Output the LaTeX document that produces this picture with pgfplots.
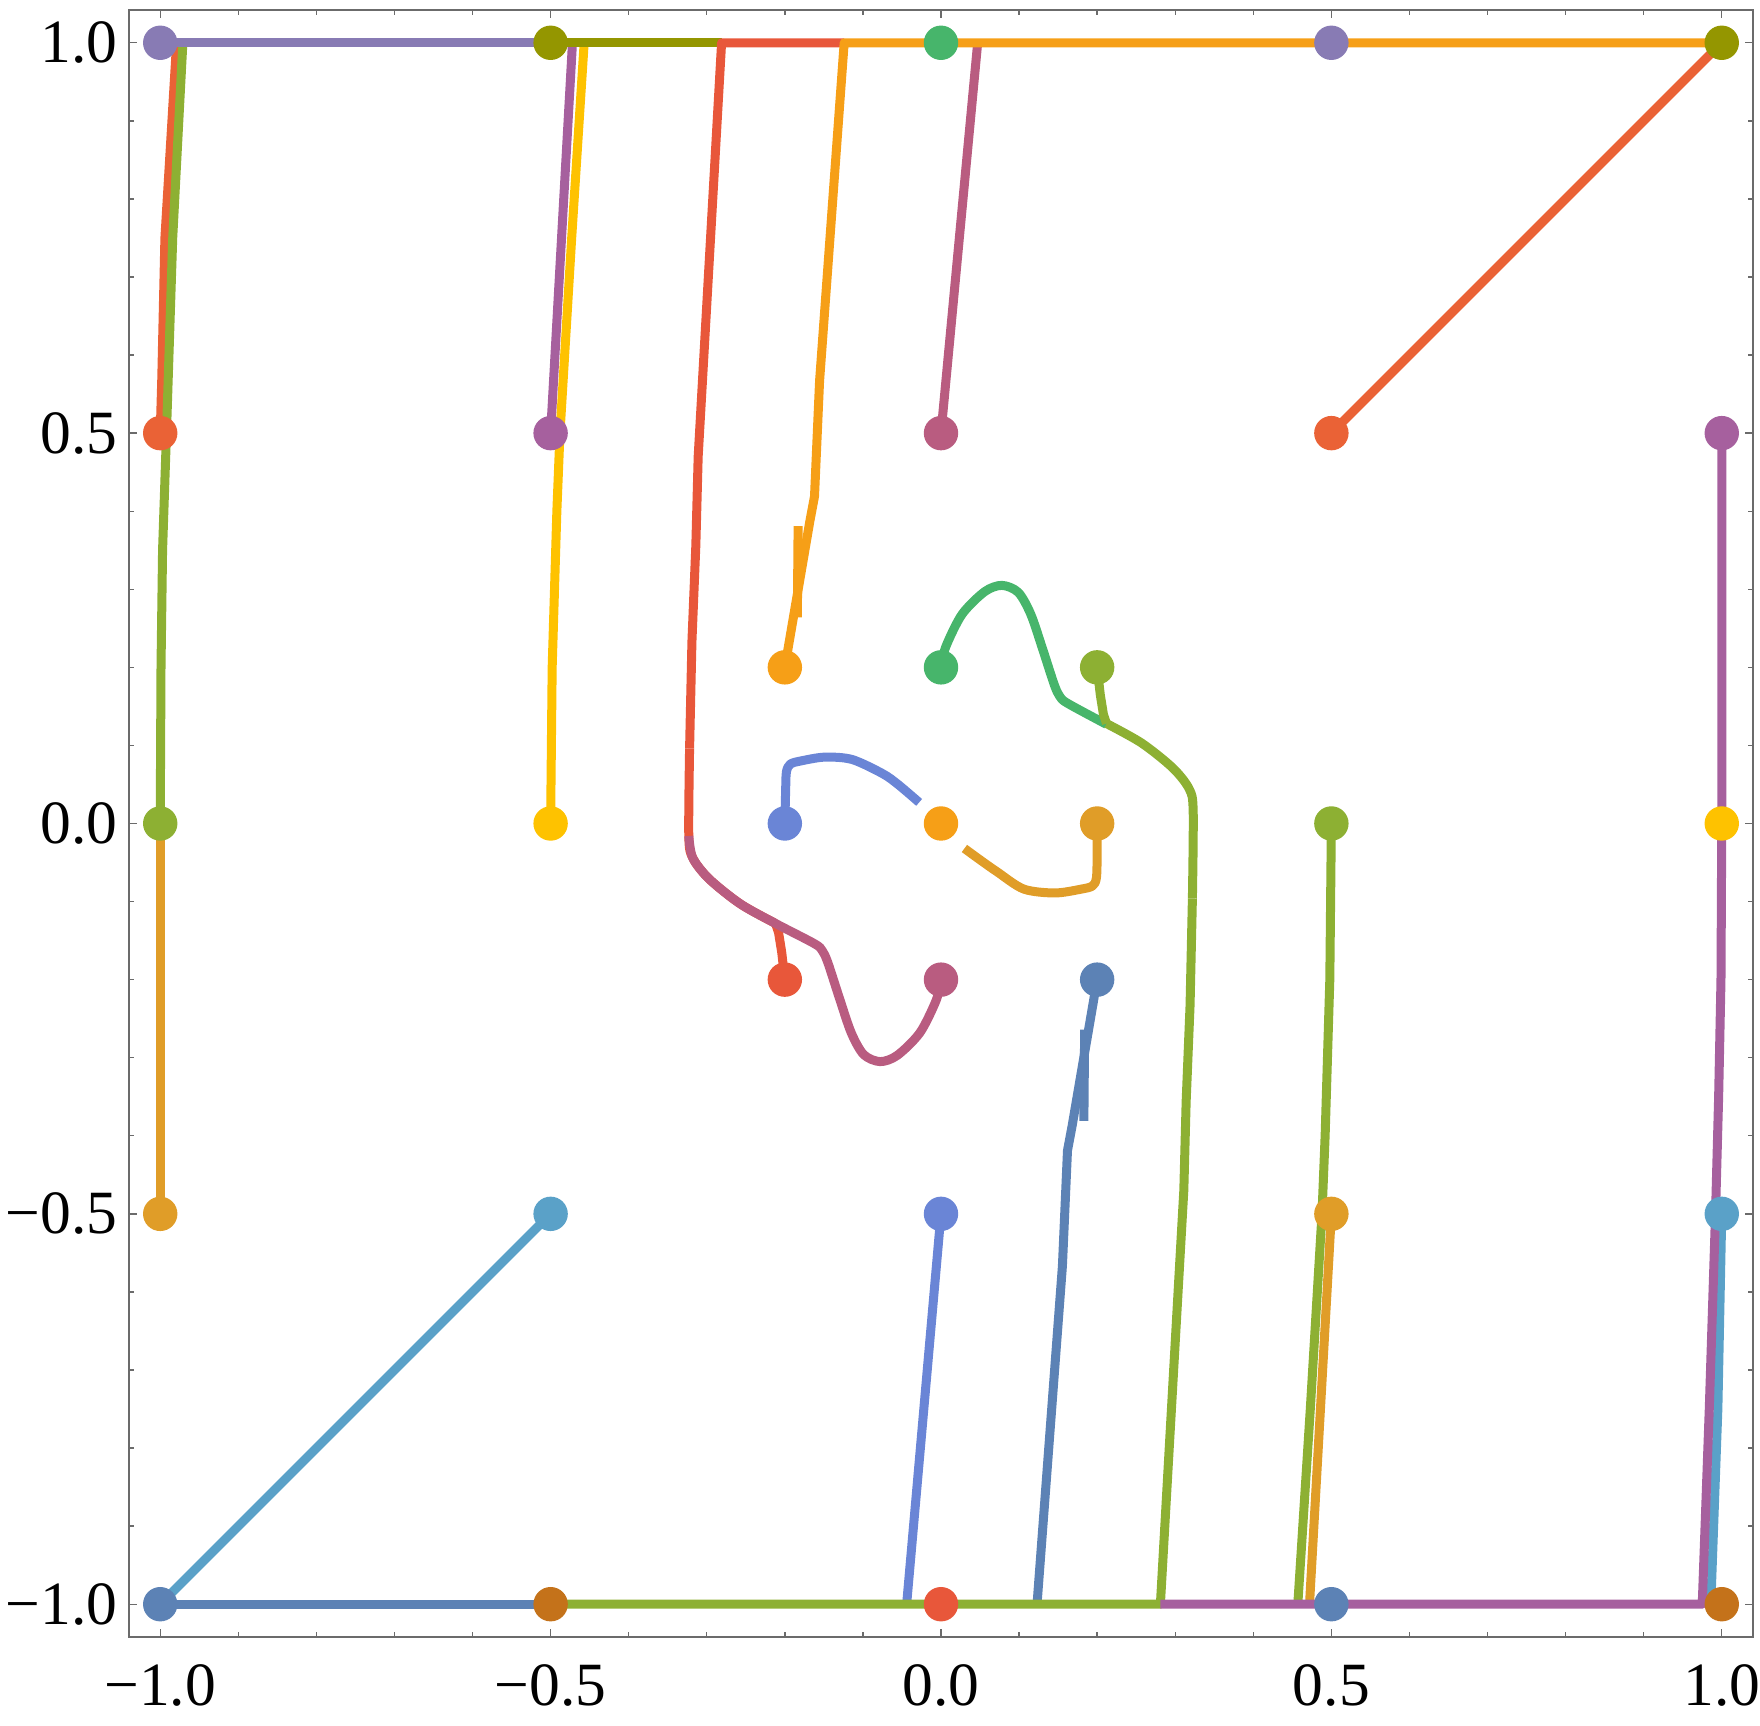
\documentclass[border=0pt]{standalone}
\usepackage{fontspec}
\setmainfont{Liberation Serif}
\usepackage{pgfplots}
\pgfplotsset{compat=1.18}
\definecolor{clav}{HTML}{887BB4}
\definecolor{colive}{HTML}{949600}
\definecolor{cgreen}{HTML}{47B56B}
\definecolor{credA}{HTML}{E8573A}
\definecolor{credB}{HTML}{EA6236}
\definecolor{cpurple}{HTML}{A6609E}
\definecolor{cpink}{HTML}{B95C80}
\definecolor{corgA}{HTML}{F69F17}
\definecolor{corgB}{HTML}{E09D28}
\definecolor{cyg}{HTML}{8DB033}
\definecolor{cyellow}{HTML}{FEC200}
\definecolor{cblue}{HTML}{6A85D6}
\definecolor{csteel}{HTML}{5C82B5}
\definecolor{clight}{HTML}{5AA1C8}
\definecolor{cbrown}{HTML}{C4721A}
\definecolor{cframe}{HTML}{6B6B6B}

\begin{document}
\begin{tikzpicture}
\path[use as bounding box] (-1.29cm,-0.89cm) rectangle (16.31cm,16.37cm);
\begin{axis}[
  at={(0,0)}, anchor=south west,
  width=16.24cm, height=16.27cm, scale only axis,
  xmin=-1.04, xmax=1.04, ymin=-1.042, ymax=1.042,
  xtick={-1,-0.5,0,0.5,1}, ytick={-1,-0.5,0,0.5,1},
  xticklabels={−1.0,−0.5,0.0,0.5,1.0},
  yticklabels={−1.0,−0.5,0.0,0.5,1.0},
  minor x tick num=4, minor y tick num=4,
  tick align=inside,
  major tick length=0.08cm, minor tick length=0.05cm,
  axis line style={cframe, line width=0.4pt},
  tick style={cframe, line width=0.4pt},
  tick label style={font=\fontsize{17.5}{20}\selectfont},
  xticklabel style={inner sep=0pt, yshift=-0.27cm},
  yticklabel style={inner sep=0pt, xshift=-0.11cm},
  traj/.style={line width=0.09cm, line join=round, no markers},
  curve/.style={traj, smooth, tension=0.5},
  dot/.style={only marks, mark=*, mark size=0.165cm},
]
% straight and near-vertical paths
\addplot[traj, credB] coordinates {(-1,0.5)(-0.998,0.57)(-0.994,0.75)(-0.979,1)};
\addplot[traj, cyg] coordinates {(-1,0)(-0.999,0.2)(-0.997,0.35)(-0.992,0.5)(-0.984,0.75)(-0.971,1)};
\addplot[traj, corgB] coordinates {(-1,-0.5)(-1,0)};
\addplot[traj, cpurple] coordinates {(-0.5,0.5)(-0.472,1)};
\addplot[traj, cyellow] coordinates {(-0.5,0)(-0.498,0.2)(-0.492,0.4)(-0.488,0.5)(-0.473,0.75)(-0.457,1)};
\addplot[traj, clight] coordinates {(-0.5,-0.5)(-1,-1)};
\addplot[traj, clight] coordinates {(1,-0.5)(0.995,-0.75)(0.986,-1)};
\addplot[traj, cpink] coordinates {(0,0.5)(0.047,1)};
\addplot[traj, cblue] coordinates {(0,-0.5)(-0.044,-1)};
\addplot[traj, credB] coordinates {(0.5,0.5)(1,1)};
\addplot[traj, cyg] coordinates {(0.5,0)(0.498,-0.2)(0.492,-0.4)(0.488,-0.5)(0.473,-0.75)(0.457,-1)};
\addplot[traj, corgB] coordinates {(0.5,-0.5)(0.472,-1)};
% edges along the top
\addplot[traj, clav] coordinates {(-1,1)(-0.5,1)};
\addplot[traj, colive] coordinates {(-0.5,1)(-0.281,1)};
% red run from (-0.2,-0.2): short stub, bend (under the pink), climb, top edge
\addplot[traj, credA] coordinates {(-0.2,-0.2)(-0.204,-0.165)(-0.208,-0.14)(-0.212,-0.128)};
\addplot[curve, credA] coordinates {
  (-0.212,-0.128)(-0.257,-0.103)(-0.297,-0.071)(-0.318,-0.044)(-0.323,-0.016)(-0.322,0.096)};
\addplot[traj, credA] coordinates {
  (-0.322,0.096)(-0.319,0.233)(-0.314,0.356)(-0.311,0.47)(-0.281,1)(-0.124,1)};
\addplot[curve, cpink] coordinates {
  (0,-0.2)(-0.006,-0.226)(-0.027,-0.268)(-0.056,-0.297)(-0.078,-0.305)
  (-0.099,-0.296)(-0.115,-0.268)(-0.130,-0.224)(-0.145,-0.178)(-0.152,-0.163)
  (-0.162,-0.154)(-0.212,-0.128)(-0.257,-0.103)(-0.297,-0.071)(-0.318,-0.044)
  (-0.323,-0.016)};
\addplot[traj, corgA] coordinates {
  (-0.2,0.2)(-0.168,0.387)(-0.162,0.419)(-0.1555,0.567)(-0.124,1)(1,1)};
\addplot[traj, corgA] coordinates {(-0.184,0.264)(-0.183,0.381)};
\addplot[curve, cgreen] coordinates {
  (0,0.2)(0.006,0.226)(0.027,0.268)(0.056,0.297)(0.078,0.305)(0.099,0.296)
  (0.115,0.268)(0.130,0.224)(0.145,0.178)(0.152,0.163)(0.162,0.154)(0.212,0.127)};
\addplot[traj, csteel] coordinates {
  (0.2,-0.2)(0.168,-0.387)(0.162,-0.419)(0.1555,-0.567)(0.123,-1)};
\addplot[traj, csteel] coordinates {(0.184,-0.264)(0.183,-0.381)};
\addplot[traj, csteel] coordinates {(-1,-1)(-0.5,-1)};
% yellow-green run from (0.2,0.2): stub, bend, descent, bottom edge
\addplot[traj, cyg] coordinates {(0.2,0.2)(0.204,0.165)(0.208,0.14)(0.212,0.128)};
\addplot[curve, cyg] coordinates {
  (0.212,0.128)(0.257,0.103)(0.297,0.071)(0.318,0.044)(0.323,0.016)(0.322,-0.096)};
\addplot[traj, cyg] coordinates {
  (0.322,-0.096)(0.319,-0.233)(0.314,-0.356)(0.311,-0.47)(0.281,-1)(-0.5,-1)};
\addplot[traj, cpurple] coordinates {
  (1,0.5)(1,0)(0.999,-0.2)(0.996,-0.35)(0.992,-0.5)(0.984,-0.75)(0.975,-1)(0.281,-1)};
\addplot[curve, cblue] coordinates {
  (-0.2,0)(-0.199,0.041)(-0.198,0.066)(-0.193,0.076)(-0.180,0.080)(-0.149,0.085)
  (-0.114,0.082)(-0.075,0.064)(-0.055,0.050)(-0.028,0.027)};
\addplot[curve, corgB] coordinates {
  (0.2,0)(0.2,-0.041)(0.199,-0.070)(0.194,-0.080)(0.180,-0.084)(0.146,-0.089)
  (0.106,-0.084)(0.072,-0.062)(0.052,-0.048)(0.030,-0.032)};
% starting points
\addplot[dot, clav] coordinates {(-1,1)(0.5,1)};
\addplot[dot, colive] coordinates {(-0.5,1)(1,1)};
\addplot[dot, cgreen] coordinates {(0,1)(0,0.2)};
\addplot[dot, credB] coordinates {(-1,0.5)(0.5,0.5)};
\addplot[dot, cpurple] coordinates {(-0.5,0.5)(1,0.5)};
\addplot[dot, cpink] coordinates {(0,0.5)(0,-0.2)};
\addplot[dot, corgA] coordinates {(-0.2,0.2)(0,0)};
\addplot[dot, cyg] coordinates {(0.2,0.2)(-1,0)(0.5,0)};
\addplot[dot, cyellow] coordinates {(-0.5,0)(1,0)};
\addplot[dot, cblue] coordinates {(-0.2,0)(0,-0.5)};
\addplot[dot, corgB] coordinates {(0.2,0)(-1,-0.5)(0.5,-0.5)};
\addplot[dot, credA] coordinates {(-0.2,-0.2)(0,-1)};
\addplot[dot, csteel] coordinates {(0.2,-0.2)(-1,-1)(0.5,-1)};
\addplot[dot, clight] coordinates {(-0.5,-0.5)(1,-0.5)};
\addplot[dot, cbrown] coordinates {(-0.5,-1)(1,-1)};
\end{axis}
\end{tikzpicture}
\end{document}
